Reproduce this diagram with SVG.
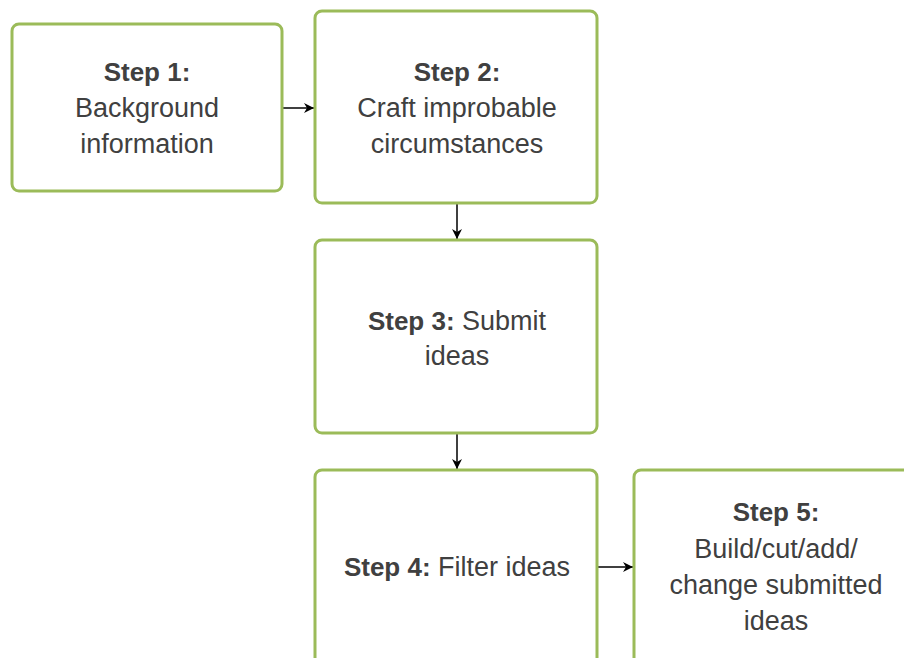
<svg xmlns="http://www.w3.org/2000/svg" width="904" height="658" viewBox="0 0 904 658">
<style>
.box{fill:#ffffff;stroke:#9BBB59;stroke-width:3}
.t{font-family:"Liberation Sans",Arial,sans-serif;font-size:27px;fill:#404040;text-anchor:middle}
.b{font-weight:bold;font-size:26px}
.c{stroke:#000;stroke-width:1.5;fill:none;marker-end:url(#ah)}
</style>
<defs>
<marker id="ah" viewBox="0 0 10 10" refX="10" refY="5" markerWidth="10" markerHeight="10" markerUnits="userSpaceOnUse" orient="auto">
<path d="M0,0 L10,5 L0,10 L3,5 Z" fill="#000"/>
</marker>
</defs>
<rect width="904" height="658" fill="#ffffff"/>
<g id="connectors">
<line class="c" x1="283" y1="108" x2="314" y2="108"/>
<line class="c" x1="457" y1="204" x2="457" y2="239"/>
<line class="c" x1="457" y1="434" x2="457" y2="469"/>
<line class="c" x1="598" y1="567" x2="633" y2="567"/>
</g>
<g id="step1">
<rect class="box" x="12" y="24" width="270" height="167" rx="7"/>
<text class="t" x="147" y="81"><tspan class="b">Step 1:</tspan></text>
<text class="t" x="147" y="117">Background</text>
<text class="t" x="147" y="153">information</text>
</g>
<g id="step2">
<rect class="box" x="315" y="11" width="282" height="192" rx="7"/>
<text class="t" x="457" y="81"><tspan class="b">Step 2:</tspan></text>
<text class="t" x="457" y="117">Craft improbable</text>
<text class="t" x="457" y="153">circumstances</text>
</g>
<g id="step3">
<rect class="box" x="315" y="240" width="282" height="193" rx="7"/>
<text class="t" x="457" y="330"><tspan class="b">Step 3:</tspan> Submit</text>
<text class="t" x="457" y="365">ideas</text>
</g>
<g id="step4">
<rect class="box" x="315" y="470" width="282" height="230" rx="7"/>
<text class="t" x="457" y="576"><tspan class="b">Step 4:</tspan> Filter ideas</text>
</g>
<g id="step5">
<rect class="box" x="634" y="470" width="284" height="230" rx="7"/>
<text class="t" x="776" y="521"><tspan class="b">Step 5:</tspan></text>
<text class="t" x="776" y="558">Build/cut/add/</text>
<text class="t" x="776" y="594">change submitted</text>
<text class="t" x="776" y="630">ideas</text>
</g>
</svg>
